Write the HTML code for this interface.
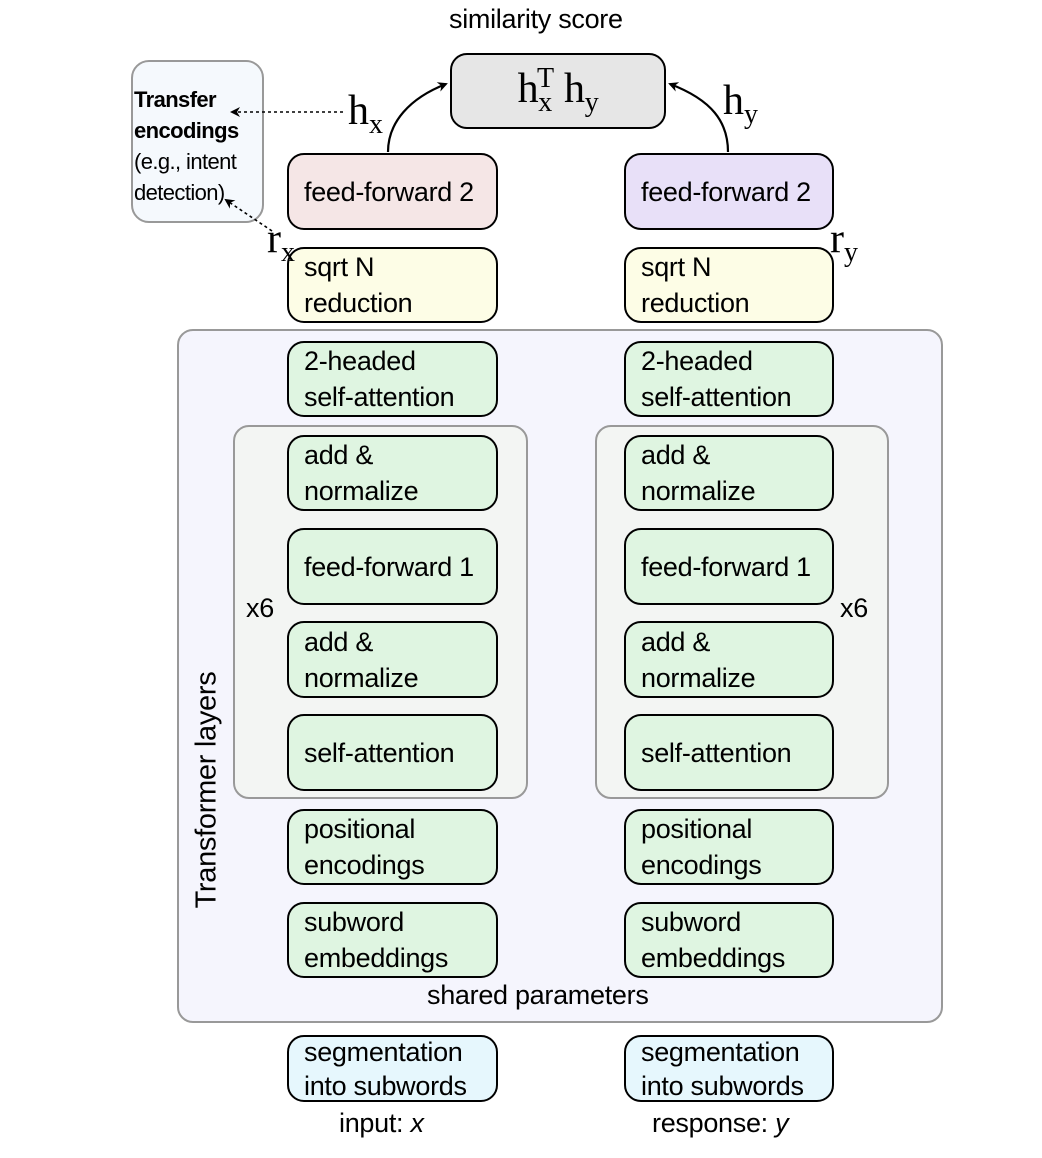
<!DOCTYPE html>
<html><head><meta charset="utf-8"><style>
body{margin:0;width:1042px;height:1158px;background:#fff;position:relative;overflow:hidden;font-family:"Liberation Sans",Arial,sans-serif;color:#000}
.a{position:absolute;box-sizing:border-box}
.b{position:absolute;box-sizing:border-box;border:2px solid #000;border-radius:17px;display:flex;flex-direction:column;justify-content:center;padding-left:15px;font-size:27px;line-height:36px;white-space:nowrap;letter-spacing:-0.3px}
.g{background:#dff5e1}
.grp{position:absolute;box-sizing:border-box;border:2px solid #999;border-radius:16px}
.t{position:absolute;font-size:27px;white-space:nowrap;letter-spacing:-0.3px}
.m{position:absolute;font-family:"Liberation Serif",serif;font-size:42px;white-space:nowrap;line-height:1}
.m sub{font-size:28px;vertical-align:-9px}
.m sup{font-size:28px;vertical-align:15px}
</style></head><body>
<div class="grp" style="left:177px;top:329px;width:766px;height:694px;background:#f5f5fd"></div>
<div class="grp" style="left:233px;top:425px;width:295px;height:374px;background:#f3f5f3"></div>
<div class="grp" style="left:595px;top:425px;width:294px;height:374px;background:#f3f5f3"></div>
<div class="grp" style="left:131px;top:60px;width:133px;height:163px;background:#f5f9fd;border-radius:18px"></div>
<div class="a" style="left:134px;top:84px;font-size:22px;line-height:31px;white-space:nowrap;letter-spacing:-0.6px"><b>Transfer</b><br><b>encodings</b><br>(e.g., intent<br>detection)</div>

<div class="t" style="left:449px;top:4px">similarity score</div>
<div class="b" style="left:450px;top:53px;width:216px;height:76px;background:#e6e6e6;align-items:center;padding-left:0"><div class="m" style="position:static">h<sub>x</sub><sup style="margin-left:-15px">T</sup> h<sub>y</sub></div></div>

<div class="b" style="left:287px;top:153px;width:211px;height:77px;background:#f5e6e6">feed-forward 2</div>
<div class="b" style="left:624px;top:153px;width:210px;height:77px;background:#e8e0f8">feed-forward 2</div>
<div class="b" style="left:287px;top:247px;width:211px;height:76px;background:#fdfde6">sqrt N<br>reduction</div>
<div class="b" style="left:624px;top:247px;width:210px;height:76px;background:#fdfde6">sqrt N<br>reduction</div>

<div class="b g" style="left:287px;top:341px;width:211px;height:76px">2-headed<br>self-attention</div>
<div class="b g" style="left:624px;top:341px;width:210px;height:76px">2-headed<br>self-attention</div>
<div class="b g" style="left:287px;top:435px;width:211px;height:76px">add &amp;<br>normalize</div>
<div class="b g" style="left:624px;top:435px;width:210px;height:76px">add &amp;<br>normalize</div>
<div class="b g" style="left:287px;top:528px;width:211px;height:77px">feed-forward 1</div>
<div class="b g" style="left:624px;top:528px;width:210px;height:77px">feed-forward 1</div>
<div class="b g" style="left:287px;top:621px;width:211px;height:77px">add &amp;<br>normalize</div>
<div class="b g" style="left:624px;top:621px;width:210px;height:77px">add &amp;<br>normalize</div>
<div class="b g" style="left:287px;top:714px;width:211px;height:77px">self-attention</div>
<div class="b g" style="left:624px;top:714px;width:210px;height:77px">self-attention</div>
<div class="b g" style="left:287px;top:809px;width:211px;height:76px">positional<br>encodings</div>
<div class="b g" style="left:624px;top:809px;width:210px;height:76px">positional<br>encodings</div>
<div class="b g" style="left:287px;top:902px;width:211px;height:76px">subword<br>embeddings</div>
<div class="b g" style="left:624px;top:902px;width:210px;height:76px">subword<br>embeddings</div>
<div class="b" style="left:287px;top:1035px;width:211px;height:67px;background:#e6f7fd;line-height:34px">segmentation<br>into subwords</div>
<div class="b" style="left:624px;top:1035px;width:210px;height:67px;background:#e6f7fd;line-height:34px">segmentation<br>into subwords</div>

<div class="t" style="left:427px;top:980px">shared parameters</div>
<div class="t" style="left:339px;top:1108px">input: <i>x</i></div>
<div class="t" style="left:652px;top:1108px">response: <i>y</i></div>
<div class="t" style="left:246px;top:593px">x6</div>
<div class="t" style="left:840px;top:593px">x6</div>
<div class="t" style="left:207px;top:790px;transform:translate(-50%,-50%) rotate(-90deg);font-size:29px">Transformer layers</div>

<div class="m" style="left:348px;top:90px">h<sub>x</sub></div>
<div class="m" style="left:723px;top:80px">h<sub>y</sub></div>
<div class="m" style="left:267px;top:218px">r<sub>x</sub></div>
<div class="m" style="left:830px;top:218px">r<sub>y</sub></div>

<svg class="a" style="left:0;top:0" width="1042" height="1158">
<defs>
<marker id="ar" markerWidth="10" markerHeight="10" refX="8" refY="5" orient="auto" markerUnits="userSpaceOnUse"><path d="M0,0 L10,5 L0,10 L3,5 z" fill="#000"/></marker>
</defs>
<path d="M388,152 C388,122 410,98 446,84" fill="none" stroke="#000" stroke-width="2.2" marker-end="url(#ar)"/>
<path d="M728,152 C728,122 712,100 670,84" fill="none" stroke="#000" stroke-width="2.2" marker-end="url(#ar)"/>
<path d="M343,112 L232,112" fill="none" stroke="#000" stroke-width="1.6" stroke-dasharray="3,3" marker-end="url(#ar)"/>
<path d="M272,231 L226,200" fill="none" stroke="#000" stroke-width="1.6" stroke-dasharray="3,3" marker-end="url(#ar)"/>
</svg>
</body></html>
